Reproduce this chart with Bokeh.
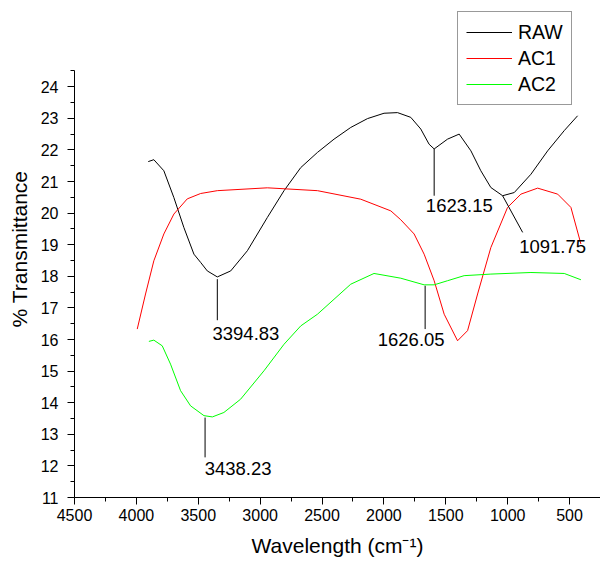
from bokeh.plotting import figure
from bokeh.models import Range1d, FixedTicker, Legend, LegendItem
from bokeh.core.properties import value
from bokeh.embed import file_html
from bokeh.resources import INLINE

FONT = "Liberation Sans"

# ---- data ----
raw_x = [3904, 3859, 3778, 3697, 3616, 3535, 3481, 3427, 3346, 3238, 3103, 2942, 2807,
         2672, 2537, 2403, 2268, 2133, 1999, 1890, 1783, 1702, 1635, 1594, 1486, 1392,
         1297, 1217, 1136, 1041, 947, 812, 677, 543, 435]
raw_y = [21.63, 21.69, 21.34, 20.49, 19.54, 18.70, 18.44, 18.17, 17.98, 18.17, 18.81, 19.86,
         20.71, 21.44, 21.92, 22.34, 22.71, 22.99, 23.16, 23.18, 23.03, 22.66, 22.18, 22.03,
         22.34, 22.50, 21.97, 21.34, 20.81, 20.55, 20.65, 21.23, 21.97, 22.61, 23.08]

ac1_x = [3993, 3926, 3859, 3778, 3697, 3589, 3481, 3346, 2942, 2537, 2187, 1944, 1864,
         1756, 1675, 1594, 1513, 1405, 1324, 1243, 1136, 1001, 893, 758, 596, 489, 408]
ac1_y = [16.33, 17.44, 18.49, 19.34, 19.97, 20.45, 20.62, 20.71, 20.80, 20.71, 20.44, 20.07,
         19.79, 19.34, 18.70, 17.86, 16.80, 15.96, 16.28, 17.44, 18.91, 20.18, 20.60, 20.79,
         20.60, 20.18, 19.02]

ac2_x = [3899, 3859, 3791, 3724, 3643, 3562, 3454, 3386, 3293, 3158, 2969, 2807, 2672,
         2537, 2268, 2080, 1864, 1675, 1594, 1486, 1352, 1136, 812, 543, 408]
ac2_y = [15.94, 15.98, 15.80, 15.22, 14.38, 13.90, 13.59, 13.55, 13.69, 14.11, 15.01, 15.85,
         16.43, 16.80, 17.75, 18.09, 17.94, 17.73, 17.73, 17.86, 18.02, 18.07, 18.12, 18.09,
         17.89]

# peak annotations: leader line (x0,y0)->(x1,y1) and label position
ann_text = ["3394.83", "3438.23", "1623.15", "1091.75", "1626.05"]
ann_x0 = [3346, 3445, 1594, 1041, 1667]
ann_y0 = [17.91, 13.53, 22.03, 20.55, 17.70]
ann_x1 = [3346, 3445, 1594, 879, 1667]
ann_y1 = [16.61, 12.27, 20.55, 19.39, 16.33]
ann_tx = [3385, 3448, 1661, 907, 2050]
ann_ty = [16.19, 11.91, 20.23, 18.94, 16.01]

x_major = [4500, 4000, 3500, 3000, 2500, 2000, 1500, 1000, 500]
x_minor = [4250, 3750, 3250, 2750, 2250, 1750, 1250, 750]
y_major = list(range(11, 25))
y_minor = [v + 0.5 for v in range(11, 25)]
y_axis_bounds = (11, 24.5)

series_names = ["RAW", "AC1", "AC2"]
series_colors = ["#000000", "#ff0000", "#00ff00"]

# ---- figure ----
FRAME_H = 497          # px, frame from top of canvas to the x axis
PX_PER_UNIT = 31.6     # vertical scale of the reference
p = figure(width=600, height=564, output_backend="svg", toolbar_location=None,
           x_range=Range1d(4500, 250), y_range=Range1d(11, 11 + FRAME_H / PX_PER_UNIT),
           min_border_left=74, min_border_right=0, min_border_top=0, min_border_bottom=67,
           background_fill_color="white", border_fill_color="white")
p.outline_line_color = None
p.grid.visible = False

r_raw = p.line(raw_x, raw_y, line_color=series_colors[0], line_width=1)
r_ac1 = p.line(ac1_x, ac1_y, line_color=series_colors[1], line_width=1)
r_ac2 = p.line(ac2_x, ac2_y, line_color=series_colors[2], line_width=1)

p.segment(x0=ann_x0, y0=ann_y0, x1=ann_x1, y1=ann_y1, line_color="black", line_width=1)
p.text(x=ann_tx, y=ann_ty, text=ann_text, text_font=value(FONT), text_font_size="18.5px",
       text_color="black", text_align="left", text_baseline="middle")

# axes
xa = p.xaxis[0]
xa.ticker = FixedTicker(ticks=x_major, minor_ticks=x_minor)
xa.axis_label = "Wavelength (cm\u207b\u00b9)"
ya = p.yaxis[0]
ya.ticker = FixedTicker(ticks=y_major, minor_ticks=y_minor)
ya.bounds = y_axis_bounds
ya.axis_label = "% Transmittance"
for ax in (xa, ya):
    ax.axis_line_color = "black"
    ax.axis_line_width = 1
    ax.major_tick_line_color = "black"
    ax.minor_tick_line_color = "black"
    ax.major_tick_in = 0
    ax.major_tick_out = 7
    ax.minor_tick_in = 0
    ax.minor_tick_out = 4
    ax.major_label_text_font = FONT
    ax.major_label_text_font_size = "16px"
    ax.major_label_text_color = "black"
    ax.axis_label_text_font = FONT
    ax.axis_label_text_font_size = "21px"
    ax.axis_label_text_font_style = "normal"
    ax.axis_label_text_color = "black"
xa.major_label_standoff = 4
xa.axis_label_standoff = 10
ya.major_label_standoff = 9
ya.axis_label_standoff = 7

legend = Legend(items=[LegendItem(label=series_names[0], renderers=[r_raw]),
                       LegendItem(label=series_names[1], renderers=[r_ac1]),
                       LegendItem(label=series_names[2], renderers=[r_ac2])],
                location=(383, 392), orientation="vertical",
                padding=8, margin=0, spacing=2,
                glyph_width=46, glyph_height=24, label_height=24, label_standoff=6,
                label_text_font=FONT, label_text_font_size="19.5px", label_text_color="black",
                border_line_color="#333333", border_line_width=1,
                background_fill_color="white", background_fill_alpha=1.0)
p.add_layout(legend, "center")

open("out.html", "w").write(file_html(p, INLINE))
